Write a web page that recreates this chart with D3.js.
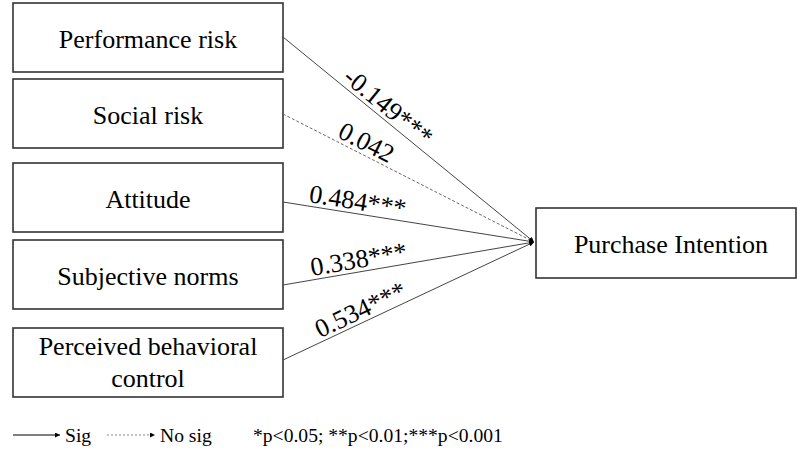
<!DOCTYPE html>
<html>
<head>
<meta charset="utf-8">
<script src="https://cdn.jsdelivr.net/npm/d3@7"></script>
<style>
  html, body { margin: 0; padding: 0; background: #fff; }
  svg { display: block; }
  text { font-family: "Liberation Serif", "Times New Roman", serif; fill: #000; }
</style>
</head>
<body>
<svg id="chart" width="797" height="452"></svg>
<script>
// ---- Data ----
const predictors = ["Performance risk", "Social risk", "Attitude", "Subjective norms", "Perceived behavioral control"];
const predictorLines = [["Performance risk"], ["Social risk"], ["Attitude"], ["Subjective norms"], ["Perceived behavioral", "control"]];
const coefficients = [-0.149, 0.042, 0.484, 0.338, 0.534];
const significance = ["***", "", "***", "***", "***"];
const outcome = "Purchase Intention";
const legendItems = ["Sig", "No sig"];
const pNote = "*p<0.05; **p<0.01;***p<0.001";

// ---- Layout ----
const svg = d3.select("#chart");
const boxTop = d3.scaleOrdinal().domain(predictors).range([3, 79, 163, 240, 328]);
const lineStartY = d3.scaleOrdinal().domain(predictors).range([37, 114, 202, 285, 360]);
const labelT = d3.scaleOrdinal().domain(predictors).range([0.388, 0.31, 0.29, 0.31, 0.33]);
const boxH = 69;
const x = d3.scaleLinear().domain([0, 1]).range([13, 283]);
const target = { x0: 536, x1: 796, y0: 208, y1: 278, tipX: 534, tipY: 242 };
const FS = 26;

const defs = svg.append("defs");
defs.append("marker")
  .attr("id", "arrow")
  .attr("viewBox", "0 0 10 10")
  .attr("refX", 10).attr("refY", 5)
  .attr("markerWidth", 5).attr("markerHeight", 5)
  .attr("markerUnits", "userSpaceOnUse")
  .attr("orient", "auto")
  .append("path").attr("d", "M0,0 L10,5 L0,10 z").attr("fill", "#000");

// Predictor boxes
const g = svg.append("g");
predictors.forEach((p, i) => {
  const top = boxTop(p);
  g.append("rect")
    .attr("x", x(0)).attr("y", top)
    .attr("width", x(1) - x(0)).attr("height", boxH)
    .attr("fill", "#fff").attr("stroke", "#333").attr("stroke-width", 1.6);
  const lines = predictorLines[i];
  const cx = (x(0) + x(1)) / 2;
  if (lines.length === 1) {
    g.append("text").attr("x", cx).attr("y", top + boxH / 2 + 10)
      .attr("text-anchor", "middle").attr("font-size", FS).text(lines[0]);
  } else {
    lines.forEach((l, j) => {
      g.append("text").attr("x", cx).attr("y", top + 27 + j * 32)
        .attr("text-anchor", "middle").attr("font-size", FS).text(l);
    });
  }
});

// Outcome box
svg.append("rect")
  .attr("x", target.x0).attr("y", target.y0)
  .attr("width", target.x1 - target.x0).attr("height", target.y1 - target.y0)
  .attr("fill", "#fff").attr("stroke", "#333").attr("stroke-width", 1.6);
svg.append("text")
  .attr("x", 671).attr("y", (target.y0 + target.y1) / 2 + 10)
  .attr("text-anchor", "middle").attr("font-size", FS).text(outcome);

// Paths
const fmt = d3.format(".3f");
predictors.forEach((p, i) => {
  const x1 = x(1), y1 = lineStartY(p);
  const x2 = target.tipX, y2 = target.tipY;
  const sig = significance[i] !== "";
  svg.append("line")
    .attr("x1", x1).attr("y1", y1).attr("x2", x2).attr("y2", y2)
    .attr("stroke", sig ? "#444" : "#666")
    .attr("stroke-width", 1)
    .attr("stroke-dasharray", sig ? null : "3,2")
    .attr("marker-end", "url(#arrow)");
  const t = labelT(p);
  const lx = x1 + (x2 - x1) * t, ly = y1 + (y2 - y1) * t;
  const ang = Math.atan2(y2 - y1, x2 - x1) * 180 / Math.PI;
  const label = (coefficients[i] < 0 ? "-" + fmt(-coefficients[i]) : fmt(coefficients[i])) + significance[i];
  svg.append("text")
    .attr("transform", `translate(${lx},${ly}) rotate(${ang})`)
    .attr("y", -4)
    .attr("text-anchor", "middle").attr("font-size", FS)
    .text(label);
});

// Legend
const ly = 435;
svg.append("line").attr("x1", 13).attr("y1", ly).attr("x2", 60).attr("y2", ly)
  .attr("stroke", "#000").attr("stroke-width", 1).attr("marker-end", "url(#arrow)");
svg.append("text").attr("x", 65).attr("y", ly + 7).attr("font-size", 19.6).text(legendItems[0]);
svg.append("line").attr("x1", 107).attr("y1", ly).attr("x2", 155).attr("y2", ly)
  .attr("stroke", "#888").attr("stroke-width", 1).attr("stroke-dasharray", "2,2").attr("marker-end", "url(#arrow)");
svg.append("text").attr("x", 160).attr("y", ly + 7).attr("font-size", 19.6).text(legendItems[1]);
svg.append("text").attr("x", 253).attr("y", ly + 7).attr("font-size", 19.6).text(pNote);
</script>
</body>
</html>
